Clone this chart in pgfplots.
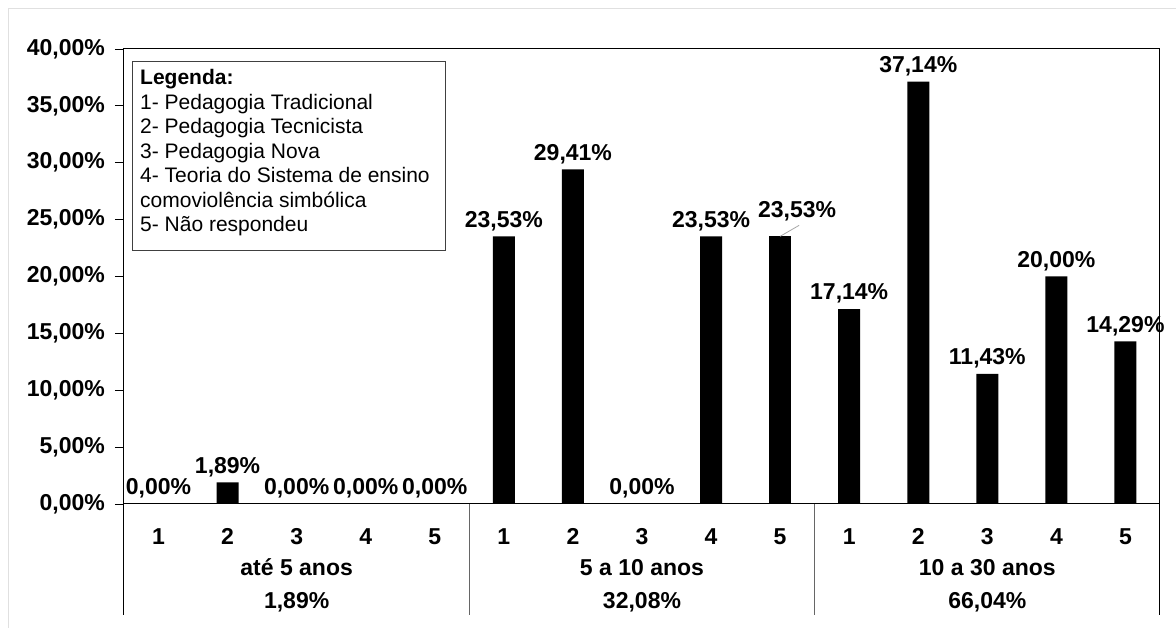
\documentclass[border=0pt]{standalone}
\usepackage{fontspec}
\setmainfont{Liberation Sans}
\usepackage{pgfplots}
\usepackage{pgfplotstable}
\pgfplotsset{compat=1.18}
\newcommand\lab{\bfseries\fontsize{23}{26}\selectfont}

\pgfplotstableread{
x y
0 0
1 1.89
2 0
3 0
4 0
5 23.53
6 29.41
7 0
8 23.53
10 17.14
11 37.14
12 11.43
13 20.00
14 14.29
}\maindata
\pgfplotstableread{
x y
9 23.53
}\shifted

\begin{document}
\begin{tikzpicture}
\useasboundingbox (0pt,0pt) rectangle (1176pt,628pt);
\draw[black!12, line width=1pt] (8pt,0pt) -- (8pt,619pt) -- (1176pt,619pt);
\begin{axis}[
  at={(124pt,124pt)}, anchor=south west, scale only axis,
  width=1036pt, height=455pt,
  xmin=-0.5, xmax=14.5, ymin=0, ymax=40,
  ybar, bar width=22pt, bar shift=0pt,
  xtick={0,...,14},
  xticklabels={1,2,3,4,5,1,2,3,4,5,1,2,3,4,5},
  xtick style={draw=none},
  xticklabel style={anchor=base, inner sep=0pt, yshift=-32pt},
  ytick={0,5,10,15,20,25,30,35,40},
  ytick pos=left,
  yticklabel={\pgfmathprintnumber[fixed,fixed zerofill,precision=2,use comma]{\tick}\%},
  yticklabel style={anchor=east, inner sep=0pt, xshift=-10pt},
  tick align=outside, major tick length=9pt,
  ytick style={line width=0.8pt, black},
  tick label style={font=\lab},
  /pgf/number format/assume math mode=true,
  axis line style={line width=1pt},
  clip=false,
  nodes near coords={\pgfmathprintnumber[fixed,fixed zerofill,precision=2,use comma]{\pgfplotspointmeta}\%},
  nodes near coords style={font=\lab, anchor=south, inner sep=0pt, yshift=5.5pt},
]
\addplot[fill=black, draw=none] table[x=x,y=y] {\maindata};
\addplot[fill=black, draw=none, nodes near coords style={xshift=17pt, yshift=10pt}] table[x=x,y=y] {\shifted};
\draw[black!35, line width=0.8pt] (axis cs:9,23.53) -- ++(19pt,11pt);
\draw[line width=1pt, black] (axis cs:-0.5,0) -- ++(0pt,-111pt);
\draw[line width=1pt, black!60] (axis cs:4.5,0) -- ++(0pt,-111pt);
\draw[line width=1pt, black!60] (axis cs:9.5,0) -- ++(0pt,-111pt);
\draw[line width=1pt, black] (axis cs:14.5,0) -- ++(0pt,-111pt);
\node[font=\lab, anchor=base, yshift=-72pt] at (axis cs:2,0) {até 5 anos};
\node[font=\lab, anchor=base, yshift=-72pt] at (axis cs:7,0) {5 a 10 anos};
\node[font=\lab, anchor=base, yshift=-72pt] at (axis cs:12,0) {10 a 30 anos};
\node[font=\lab, anchor=base, yshift=-105pt] at (axis cs:2,0) {1,89\%};
\node[font=\lab, anchor=base, yshift=-105pt] at (axis cs:7,0) {32,08\%};
\node[font=\lab, anchor=base, yshift=-105pt] at (axis cs:12,0) {66,04\%};
\end{axis}
\draw[line width=0.9pt, black!75] (132pt,567pt) rectangle (445pt,378pt);
\node[anchor=base west, align=left, inner sep=0pt, font=\fontsize{21}{24.5}\selectfont] at (140pt,396.3pt)
  {\textbf{Legenda:}\\1- Pedagogia Tradicional\\2- Pedagogia Tecnicista\\3- Pedagogia Nova\\4- Teoria do Sistema de ensino\\comoviolência simbólica\\5- Não respondeu};
\end{tikzpicture}
\end{document}
